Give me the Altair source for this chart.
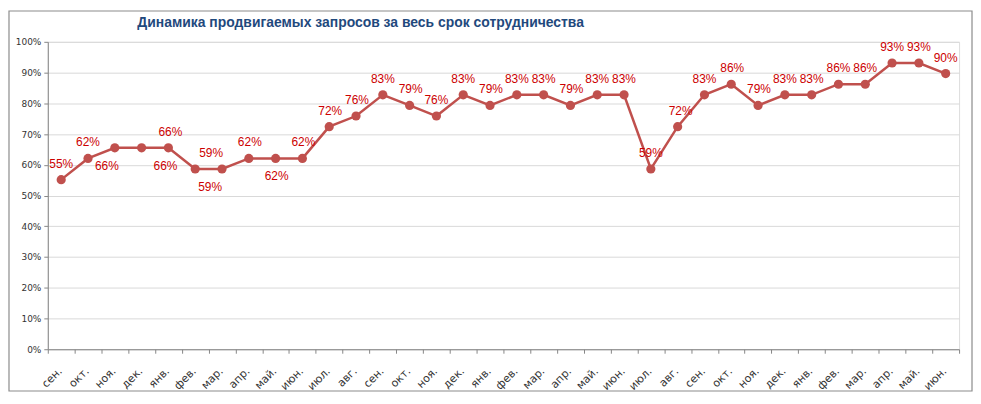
import altair as alt
import pandas as pd

months = ["сен.", "окт.", "ноя.", "дек.", "янв.", "фев.", "мар.", "апр.", "май.", "июн.",
          "июл.", "авг.", "сен.", "окт.", "ноя.", "дек.", "янв.", "фев.", "мар.", "апр.",
          "май.", "июн.", "июл.", "авг.", "сен.", "окт.", "ноя.", "дек.", "янв.", "фев.",
          "мар.", "апр.", "май.", "июн."]
values = [0.5517, 0.6207, 0.6552, 0.6552, 0.6552, 0.5862, 0.5862, 0.6207, 0.6207, 0.6207,
          0.7241, 0.7586, 0.8276, 0.7931, 0.7586, 0.8276, 0.7931, 0.8276, 0.8276, 0.7931,
          0.8276, 0.8276, 0.5862, 0.7241, 0.8276, 0.8621, 0.7931, 0.8276, 0.8276, 0.8621,
          0.8621, 0.9310, 0.9310, 0.8966]
label_side = ["above", "above", "below", "below", "above", "above", "below", "above", "below", "above",
              "above", "above", "above", "above", "above", "above", "above", "above", "above", "above",
              "above", "above", "above", "above", "above", "above", "above", "above", "above", "above",
              "above", "above", "above", "above"]
label_dx = [0, 0, -8, 24, 2, 16, -12, 1, 1, 1,
            1, 1, 0, 1, 0, 0, 1, 0, 0, 1,
            0, 0, 0, 3, 0, 1, 1, 0, 0, 0,
            0, 0, 0, 0]

title = "Динамика продвигаемых запросов за весь срок сотрудничества"
y_ticks = [0, 0.1, 0.2, 0.3, 0.4, 0.5, 0.6, 0.7, 0.8, 0.9, 1.0]

df = pd.DataFrame({
    "i": list(range(len(months))),
    "month": months,
    "v": values,
    "side": label_side,
    "dx": label_dx,
})

LINE = "#C0504D"
LABEL = "#CC0000"
AXIS = "#868686"

month_js = "[" + ",".join("'" + m + "'" for m in months) + "]"

x_enc = alt.X("i:O",
              scale=alt.Scale(type="band", paddingInner=0, paddingOuter=0),
              axis=alt.Axis(title=None, labelExpr=month_js + "[datum.value]",
                            labelAngle=315, labelAlign="right", labelBaseline="middle",
                            labelPadding=16, labelOffset=-1, tickBand="extent",
                            tickSize=4, tickColor=AXIS, domainColor=AXIS,
                            labelFont="DejaVu Sans", labelFontSize=11, labelColor="#333333",
                            grid=False))
y_enc = alt.Y("v:Q",
              scale=alt.Scale(domain=[0, 1]),
              axis=alt.Axis(title=None, values=y_ticks, format=".0%",
                            tickSize=4, tickColor=AXIS, domainColor=AXIS,
                            gridColor="#D9D9D9", labelFont="DejaVu Sans", labelFontSize=9,
                            labelColor="#333333", labelPadding=3))

base = alt.Chart(df)
line = base.mark_line(color=LINE, strokeWidth=2.5).encode(x=x_enc, y=y_enc)
pts = base.mark_point(filled=True, color=LINE, size=85, opacity=1).encode(x=x_enc, y=y_enc)

layers = [line, pts]
combos = sorted(set(zip(label_side, label_dx)))
for side, dx in combos:
    dy = -16 if side == "above" else 18
    t = base.transform_filter(
        (alt.datum.side == side) & (alt.datum.dx == dx)
    ).mark_text(
        dx=dx, dy=dy, color=LABEL, font="Liberation Sans", fontSize=12, baseline="middle"
    ).encode(x=x_enc, y=y_enc, text=alt.Text("v:Q", format=".0%"))
    layers.append(t)

one = pd.DataFrame({"t": [title]})
frame = alt.Chart(one).mark_rect(filled=False, stroke="#8C8C8C", strokeWidth=1.2).encode(
    x=alt.value(-39), x2=alt.value(929), y=alt.value(-31), y2=alt.value(351)
)
title_mark = alt.Chart(one).mark_text(
    align="left", baseline="middle", font="Liberation Sans", fontSize=14,
    fontWeight="bold", color="#1F497D"
).encode(x=alt.value(90), y=alt.value(-19), text="t:N")

chart = alt.layer(frame, title_mark, *layers).properties(
    width=916, height=309,
    autosize=alt.AutoSizeParams(type="none"),
    padding={"left": 40, "top": 33, "right": 14, "bottom": 44},
).configure_view(stroke=None).configure(background="white")

chart.save("out.html", embed_options={"renderer": "svg", "actions": False})
